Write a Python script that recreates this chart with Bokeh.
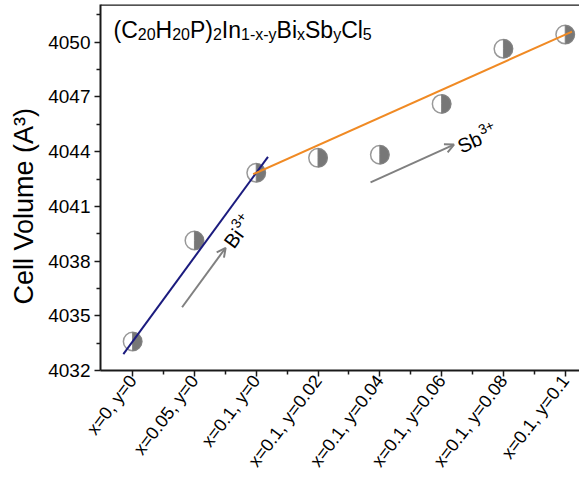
import numpy as np
from bokeh.plotting import figure
from bokeh.models import FixedTicker, Range1d, Span, Arrow, OpenHead, ColumnDataSource
from bokeh.core.properties import value
from bokeh.embed import file_html
from bokeh.resources import INLINE

# ---------------- data ----------------
categories = ["x=0, y=0", "x=0.05, y=0", "x=0.1, y=0", "x=0.1, y=0.02",
              "x=0.1, y=0.04", "x=0.1, y=0.06", "x=0.1, y=0.08", "x=0.1, y=0.1"]
cell_volume = [4033.59, 4039.13, 4042.84, 4043.66, 4043.83, 4046.62, 4049.64, 4050.42]
y_ticks = [4032, 4035, 4038, 4041, 4044, 4047, 4050]
y_minor = [4033.5, 4036.5, 4039.5, 4042.5, 4045.5, 4048.5, 4051.5]
title_pieces = [("(C", "m"), ("20", "s"), ("H", "m"), ("20", "s"), ("P)", "m"), ("2", "s"),
                ("In", "m"), ("1-x-y", "s"), ("Bi", "m"), ("x", "s"), ("Sb", "m"), ("y", "s"),
                ("Cl", "m"), ("5", "s")]

FONT = "Liberation Sans"
xs = list(range(len(categories)))
X0, X1 = -0.52, 7.231
Y0, Y1 = 4032, 4052.07

p = figure(width=579, height=481, output_backend="svg", toolbar_location=None,
           x_range=Range1d(X0, X1), y_range=Range1d(Y0, Y1),
           min_border_left=100, min_border_right=0, min_border_top=4, min_border_bottom=111)
p.outline_line_color = None
p.xgrid.visible = False
p.ygrid.visible = False
p.background_fill_color = "white"

# axes
for ax in (p.xaxis[0], p.yaxis[0]):
    ax.axis_line_width = 2
    ax.axis_line_color = "#1a1a1a"
    ax.major_tick_line_width = 1.5
    ax.major_tick_line_color = "#1a1a1a"
    ax.minor_tick_line_width = 1.5
    ax.minor_tick_line_color = "#1a1a1a"
    ax.major_tick_in = 0
    ax.major_tick_out = 6
    ax.minor_tick_in = 0
    ax.minor_tick_out = 4
    ax.major_label_text_font = FONT
    ax.major_label_text_color = "black"

p.xaxis.ticker = FixedTicker(ticks=xs, minor_ticks=[i + 0.5 for i in xs[:-1]])
p.xaxis.major_label_overrides = {i: c for i, c in enumerate(categories)}
p.xaxis.major_label_orientation = 0.925
p.xaxis.major_label_text_font_size = "18px"
p.xaxis.major_label_standoff = 1

p.yaxis.ticker = FixedTicker(ticks=y_ticks, minor_ticks=y_minor)
p.yaxis.major_label_text_font_size = "19px"
p.yaxis.major_label_standoff = 4
p.yaxis.axis_label = "Cell Volume (A\u00b3)" + "\u00a0" * 5
p.yaxis.axis_label_text_font = FONT
p.yaxis.axis_label_text_font_size = "27px"
p.yaxis.axis_label_text_font_style = "normal"
p.yaxis.axis_label_text_color = "black"
p.yaxis.axis_label_standoff = 6

# top border
p.add_layout(Span(location=Y1, dimension="width", line_color="#1a1a1a", line_width=2.5))

# markers: half-filled circles
p.scatter(xs, cell_volume, marker="circle", size=18.5, fill_color="white",
          line_color="#999999", line_width=1.5)
p.wedge(xs, cell_volume, radius=9.2, radius_units="screen", start_angle=-np.pi / 2,
        end_angle=np.pi / 2, fill_color="#777777", line_color="#808080", line_width=1)

# trend lines (through the end points of each regime)
v = np.array(cell_volume)
b_slope = (v[2] - v[0]) / 2.0
bx = np.array([-0.15, 2.19])
p.line(bx, v[0] + b_slope * bx, line_color="#1b1b7e", line_width=2)
o_slope = (v[7] - v[2]) / 5.0
ox = np.array([1.95, 7.11])
p.line(ox, v[2] + o_slope * (ox - 2), line_color="#f08a24", line_width=2)

# arrows
grey = "#808080"
p.add_layout(Arrow(x_start=0.80, y_start=4035.47, x_end=1.505, y_end=4038.73,
                   line_color=grey, line_width=2,
                   end=OpenHead(size=9, line_color=grey, line_width=2)))
p.add_layout(Arrow(x_start=3.85, y_start=4042.32, x_end=5.2, y_end=4044.39,
                   line_color=grey, line_width=2,
                   end=OpenHead(size=9, line_color=grey, line_width=2)))

# Arial / Liberation Sans advance widths (per 1000 em)
W = {'(': 333, ')': 333, 'C': 722, 'H': 722, 'P': 667, 'I': 278, 'n': 556, 'B': 667,
     'i': 222, 'S': 667, 'b': 556, 'l': 222, '-': 333, 'x': 500, 'y': 500}
def tw(s, size):
    return sum(W.get(ch, 556) for ch in s) * size / 1000.0

# rotated ion labels with superscripts
def ion_label(x, y, base, sup, angle, size=20, sup_size=14, raise_px=7):
    w = tw(base, size) + 1
    dx = w * np.cos(angle) - raise_px * np.sin(angle)
    dy = -w * np.sin(angle) - raise_px * np.cos(angle)
    src = ColumnDataSource(dict(x=[x, x], y=[y, y], t=[base, sup], xo=[0, dx], yo=[0, dy],
                                fs=[f"{size}px", f"{sup_size}px"]))
    p.text(x="x", y="y", text="t", x_offset="xo", y_offset="yo", angle=angle,
           text_font_size="fs", text_font=value(FONT), text_color="black",
           text_align="left", text_baseline="middle", source=src)

ion_label(1.55, 4038.85, "Bi", "3+", 0.9425)
ion_label(5.274, 4044.24, "Sb", "3+", 0.419)

# formula title built from pieces
main_size, sub_size = 23, 16
offs, yoffs, sizes, texts = [], [], [], []
cx = 13.0
for t, kind in title_pieces:
    s = main_size if kind == "m" else sub_size
    texts.append(t)
    offs.append(cx)
    yoffs.append(25.3 if kind == "m" else 29.5)
    sizes.append(f"{s}px")
    cx += tw(t, s)
tsrc = ColumnDataSource(dict(x=[X0] * len(texts), y=[Y1] * len(texts), t=texts,
                             xo=offs, yo=yoffs, fs=sizes))
p.text(x="x", y="y", text="t", x_offset="xo", y_offset="yo", text_font_size="fs",
       text_font=value(FONT), text_color="black", text_align="left",
       text_baseline="alphabetic", source=tsrc)

open("out.html", "w").write(file_html(p, INLINE))
